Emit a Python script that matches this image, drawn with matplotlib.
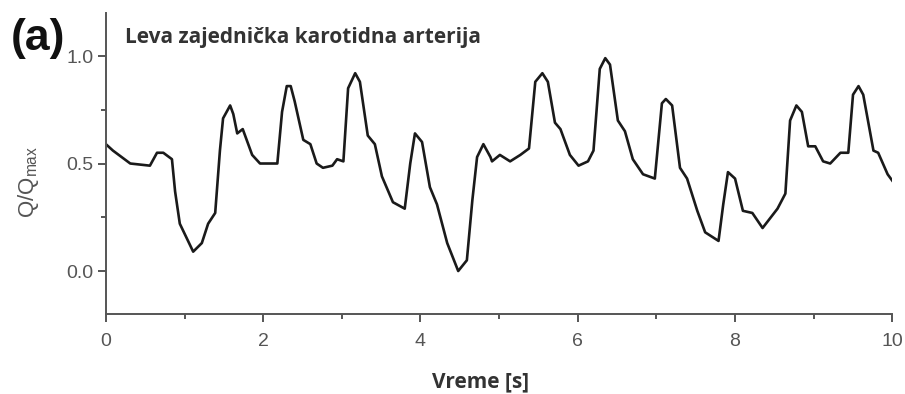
import matplotlib.pyplot as plt
from matplotlib.ticker import MultipleLocator

# values (time in s, normalised flow)
vreme = [0.00, 0.09, 0.31, 0.56, 0.65, 0.73, 0.84, 0.88, 0.94, 1.11,
         1.22, 1.30, 1.39, 1.45, 1.49, 1.58, 1.62, 1.67, 1.74, 1.86,
         1.96, 2.09, 2.18, 2.24, 2.30, 2.35, 2.40, 2.51, 2.60, 2.68,
         2.76, 2.88, 2.94, 3.02, 3.08, 3.17, 3.23, 3.33, 3.42, 3.51,
         3.65, 3.80, 3.87, 3.93, 4.02, 4.12, 4.21, 4.34, 4.48, 4.59,
         4.66, 4.72, 4.80, 4.89, 4.91, 5.01, 5.14, 5.27, 5.38, 5.46,
         5.55, 5.62, 5.71, 5.78, 5.90, 6.01, 6.13, 6.20, 6.28, 6.35,
         6.41, 6.51, 6.60, 6.70, 6.83, 6.98, 7.07, 7.12, 7.20, 7.30,
         7.39, 7.52, 7.62, 7.79, 7.85, 7.91, 8.00, 8.10, 8.22, 8.35,
         8.54, 8.64, 8.70, 8.78, 8.85, 8.93, 9.02, 9.12, 9.21, 9.34,
         9.44, 9.50, 9.57, 9.63, 9.76, 9.82, 9.94, 10.00]
protok = [0.59, 0.56, 0.50, 0.49, 0.55, 0.55, 0.52, 0.37, 0.22, 0.09,
          0.13, 0.22, 0.27, 0.56, 0.71, 0.77, 0.73, 0.64, 0.66, 0.54,
          0.50, 0.50, 0.50, 0.74, 0.86, 0.86, 0.79, 0.61, 0.59, 0.50,
          0.48, 0.49, 0.52, 0.51, 0.85, 0.92, 0.88, 0.63, 0.59, 0.44,
          0.32, 0.29, 0.50, 0.64, 0.60, 0.39, 0.31, 0.13, 0.00, 0.05,
          0.33, 0.53, 0.59, 0.53, 0.51, 0.54, 0.51, 0.54, 0.57, 0.88,
          0.92, 0.88, 0.69, 0.66, 0.54, 0.49, 0.51, 0.56, 0.94, 0.99,
          0.96, 0.70, 0.65, 0.52, 0.45, 0.43, 0.78, 0.80, 0.77, 0.48,
          0.43, 0.28, 0.18, 0.14, 0.31, 0.46, 0.43, 0.28, 0.27, 0.20,
          0.29, 0.36, 0.70, 0.77, 0.74, 0.58, 0.58, 0.51, 0.50, 0.55,
          0.55, 0.82, 0.86, 0.82, 0.56, 0.55, 0.45, 0.42]

x_ticks = [0, 2, 4, 6, 8, 10]
y_ticks = [0.0, 0.5, 1.0]

siva = "#555555"

fig = plt.figure(figsize=(9.05, 3.94), dpi=100)
ax = fig.add_axes([0.117, 0.203, 0.869, 0.764])

ax.plot(vreme, protok, color="#1a1a1a", lw=1.9, solid_joinstyle="round")

ax.set_xlim(0, 10)
ax.set_ylim(-0.2, 1.2)
ax.set_xticks(x_ticks)
ax.set_yticks(y_ticks)
ax.set_yticklabels(["%.1f" % v for v in y_ticks])
ax.xaxis.set_minor_locator(MultipleLocator(1))
ax.yaxis.set_minor_locator(MultipleLocator(0.25))

for s in ["top", "right"]:
    ax.spines[s].set_visible(False)
for s in ["left", "bottom"]:
    ax.spines[s].set_color(siva)
    ax.spines[s].set_linewidth(1.4)

ax.tick_params(which="major", direction="out", length=6, width=1.4, color=siva,
               labelcolor=siva, labelsize=14)
ax.tick_params(axis="x", which="major", pad=8)
ax.tick_params(axis="y", which="major", pad=3)
ax.tick_params(which="minor", direction="out", length=3.5, width=1.4, color=siva)
for lbl in ax.get_xticklabels() + ax.get_yticklabels():
    lbl.set_family("Liberation Sans")

ax.set_ylabel(r"Q/Q$_\mathregular{max}$", color=siva, fontsize=16,
              family="Liberation Sans")
ax.yaxis.set_label_coords(-0.082, 0.44)
ax.set_xlabel("Vreme [s]", color="#333333", fontsize=15, fontweight="bold",
              family="Open Sans")
ax.xaxis.set_label_coords(0.476, -0.19)

fig.text(0.012, 0.873, "(a)", fontsize=32, fontweight="bold",
         family="Liberation Sans", color="#111111")
fig.text(0.138, 0.891, "Leva zajednička karotidna arterija", fontsize=15,
         fontweight="bold", family="Open Sans", color="#333333")

fig.savefig("out.png", dpi=100)
